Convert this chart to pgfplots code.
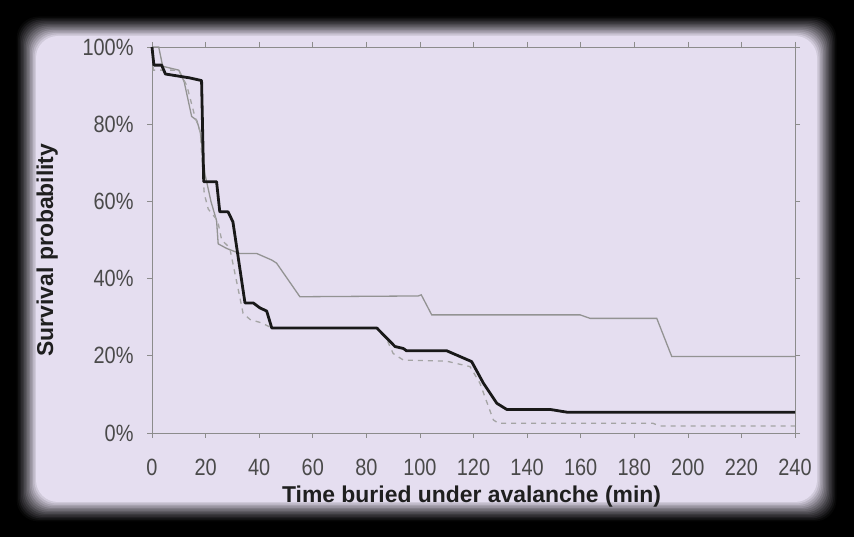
\documentclass[border=0pt]{standalone}
\usepackage{pgfplots}
\pgfplotsset{compat=1.18}
\usepackage{fontspec}
\setmainfont{Liberation Sans}
\definecolor{lav}{HTML}{E5DEF0}
\definecolor{axgray}{HTML}{8C8C8C}
\definecolor{tickgray}{HTML}{4A4A4A}
\definecolor{lgray}{HTML}{939393}
\definecolor{dgray}{HTML}{A4A4A4}
\begin{document}
\begin{tikzpicture}[x=1bp,y=1bp]
\useasboundingbox (0,0) rectangle (854,537);
\fill[black] (0,0) rectangle (854,537);
\foreach \i in {0,...,14}{
  \pgfmathtruncatemacro\p{round(100*(\i/14)^1.3)}
  \fill[lav!\p!black, rounded corners=22bp] (15+1.5*\i,14+1.5*\i) rectangle (838-1.5*\i,522-1.5*\i);
}
\begin{axis}[
  at={(152bp,104bp)}, anchor=south west,
  scale only axis, width=643bp, height=386bp,
  xmin=0, xmax=240, ymin=0, ymax=100,
  xtick={0,20,...,240}, ytick={0,20,...,100},
  yticklabels={0\%,20\%,40\%,60\%,80\%,100\%},
  tick align=outside, major tick length=5bp,
  tick style={axgray, line width=0.6bp},
  axis line style={axgray, line width=0.8bp},
  /pgf/number format/assume math mode=true,
  ticklabel style={font=\fontsize{20}{22}\selectfont, text=tickgray, yscale=1.18},
  xticklabel style={yshift=-14bp},
  yticklabel style={xshift=-10bp},
  xlabel={Time buried under avalanche (min)},
  ylabel={Survival probability},
  label style={font=\fontsize{23}{26}\selectfont\bfseries, text=black!88},
  xlabel style={at={(axis description cs:0.497,-0.166)}, anchor=center},
  ylabel style={at={(axis description cs:-0.163,0.474)}, anchor=center},
  clip=false,
]
\addplot[lgray, line width=1.3bp] coordinates {
(0,100) (2.5,100) (4,95) (10,94) (12,91) (14.8,82) (16.7,81) (18,78) (19.8,67) (22,60) (24.1,55) (24.7,49) (27.9,47.8) (32.8,46.5) (39.1,46.5) (44.7,44.8) (46.5,44) (55.2,35.3) (99.4,35.5) (100.5,35.8) (104.4,30.6) (159.8,30.6) (163.5,29.7) (188.4,29.7) (194,19.8) (240,19.8)
};
\addplot[dgray, line width=1.3bp, dash pattern=on 5bp off 5bp] coordinates {
(0,100) (0.5,94) (10,94) (13,90) (16,82) (18,78) (19.5,62) (21,58) (24.5,55) (26,50) (29,48) (34,31) (36.6,29.4) (41,28.5) (44.7,27.2) (84,27.2) (87.6,24.3) (90,20.6) (93.8,18.9) (110,18.6) (113.7,18) (118.7,17.2) (122.4,12.9) (127.4,3.4) (129.3,2.5) (187,2.5) (189.6,1.8) (240,1.8)
};
\addplot[black!90, line width=2.8bp, line join=round] coordinates {
(0,100) (0.7,95.3) (3.6,95.3) (5,93) (14,92) (18.5,91.3) (19.3,65.1) (24.1,65.1) (25.3,57.3) (28.4,57.3) (30.2,54.7) (34.7,33.7) (37.8,33.7) (40.3,32.4) (42.8,31.6) (44.7,27.2) (83.9,27.2) (87.6,24.6) (90.7,22.4) (93.8,21.9) (95,21.3) (110,21.3) (115,19.8) (119.3,18.5) (123.7,12.9) (128.7,7.7) (132.4,6.1) (148.6,6.1) (154.8,5.4) (240,5.4)
};
\end{axis}
\end{tikzpicture}
\end{document}
